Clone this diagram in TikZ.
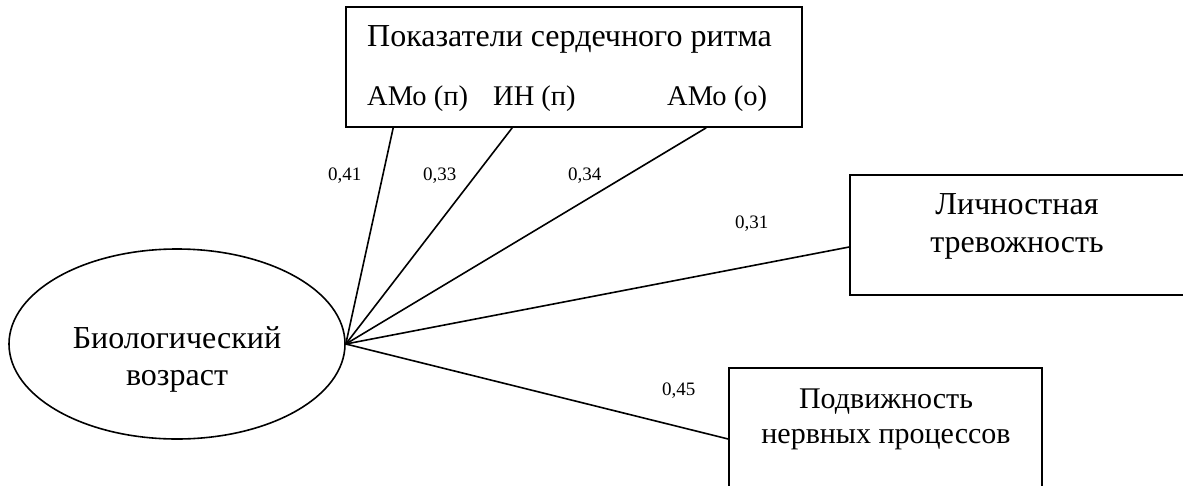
\documentclass[tikz,border=0pt]{standalone}
\usepackage{fontspec}
\setmainfont{Liberation Serif}
\usetikzlibrary{shapes.geometric}
\begin{document}
\begin{tikzpicture}[x=1pt,y=-1pt,
  box/.style={draw,line width=1.6pt,rectangle,inner sep=0pt},
  oval/.style={draw,line width=1.6pt,ellipse,inner sep=0pt},
  lbl/.style={font=\fontsize{19}{22}\selectfont,inner sep=0pt,anchor=base west},
  txt/.style={font=\fontsize{32}{38}\selectfont,inner sep=0pt},
  txtmid/.style={font=\fontsize{30}{36}\selectfont,inner sep=0pt},
  txtsm/.style={font=\fontsize{28.5}{36}\selectfont,inner sep=0pt},
  link/.style={line width=1.6pt}]
\clip (0,0) rectangle (1183,485);
\fill[white] (0,0) rectangle (1183,485);
% boxes
\node[box,minimum width=456pt,minimum height=120pt] (hr) at (574,67) {};
\node[box,minimum width=370pt,minimum height=120pt] (lt) at (1035,235) {};
\node[box,minimum width=313pt,minimum height=142pt] (np) at (885.5,439) {};
\node[oval,minimum width=336pt,minimum height=190pt] (bio) at (177,344) {};
% texts
\node[txt,anchor=base west] (t1) at (367,46) {Показатели сердечного ритма};
\node[txtsm,anchor=base west] (t2) at (367,105) {АМо (п)};
\node[txtsm,anchor=base west] (t3) at (493,105) {ИН (п)};
\node[txtsm,anchor=base west] (t4) at (667,105) {АМо (о)};
\node[txt,anchor=base] (t5) at (1017,214) {Личностная};
\node[txt,anchor=base] (t6) at (1017,252) {тревожность};
\node[txtmid,anchor=base] (t7) at (886,408) {Подвижность};
\node[txtmid,anchor=base] (t8) at (886,443) {нервных процессов};
\node[txt,anchor=base] (t9) at (177,348) {Биологический};
\node[txt,anchor=base] (t10) at (177,385) {возраст};
% connectors
\draw[link] (bio.east) -- ([xshift=48pt]hr.south west);
\draw[link] (bio.east) -- ([xshift=167pt]hr.south west);
\draw[link] (bio.east) -- ([xshift=361pt]hr.south west);
\draw[link] (bio.east) -- ([yshift=-12pt]lt.west);
\draw[link] (bio.east) -- (np.west);
% labels
\node[lbl] (l1) at (328,180) {0,41};
\node[lbl] (l2) at (423,180) {0,33};
\node[lbl] (l3) at (568,180) {0,34};
\node[lbl] (l4) at (735,228) {0,31};
\node[lbl] (l5) at (662,395) {0,45};
\end{tikzpicture}
\end{document}
